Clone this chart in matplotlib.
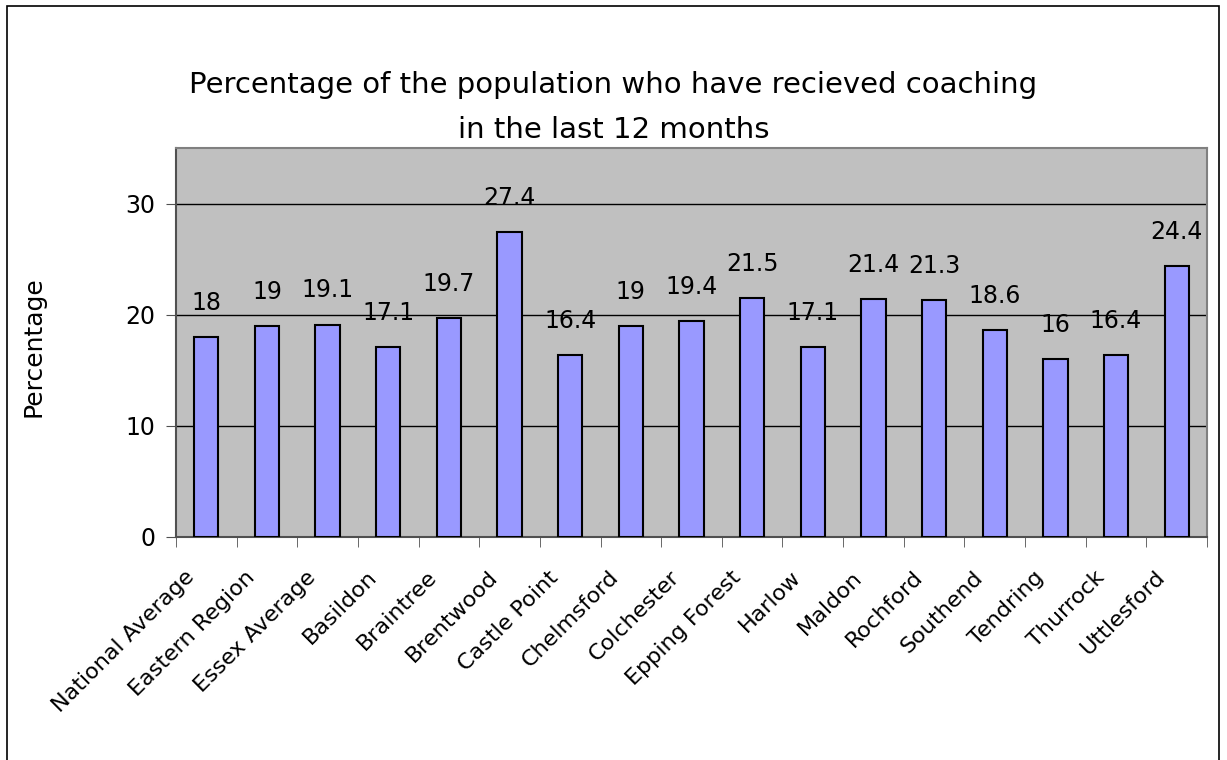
import numpy as np
import matplotlib
matplotlib.use("Agg")
import matplotlib.pyplot as plt
from matplotlib.patches import Rectangle
from matplotlib.transforms import ScaledTranslation

areas = ["National Average", "Eastern Region", "Essex Average", "Basildon",
         "Braintree", "Brentwood", "Castle Point", "Chelmsford", "Colchester",
         "Epping Forest", "Harlow", "Maldon", "Rochford", "Southend",
         "Tendring", "Thurrock", "Uttlesford"]
coached = [18, 19, 19.1, 17.1, 19.7, 27.4, 16.4, 19, 19.4, 21.5,
           17.1, 21.4, 21.3, 18.6, 16, 16.4, 24.4]
y_ticks = [0, 10, 20, 30]

plt.rcParams['font.family'] = ['DejaVu Sans']

fig = plt.figure(figsize=(12.27, 7.6), dpi=100)
fig.patch.set_facecolor("white")
# outer chart border
fig.add_artist(Rectangle((7 / 1227, -0.01), 1212 / 1227, 1 - 6 / 760 + 0.01,
                         transform=fig.transFigure, fill=False,
                         edgecolor="black", linewidth=1.2))

ax = fig.add_axes([176 / 1227, 1 - 537 / 760, (1207 - 176) / 1227, (537 - 148) / 760])
ax.set_facecolor("#C0C0C0")

x = np.arange(len(areas))
ax.bar(x, coached, width=0.4, color="#9999FF", edgecolor="black",
       linewidth=1.5, zorder=3)

for xi, v in zip(x, coached):
    ax.annotate(f"{v:g}", (xi, v), xytext=(0, 16), textcoords="offset points",
                ha="center", va="bottom", fontsize=17, color="black")

ax.set_xlim(-0.5, len(areas) - 0.5)
ax.set_ylim(0, 35)
ax.set_yticks(y_ticks)
ax.tick_params(axis="y", labelsize=17, length=7, color="#505050", pad=8)
ax.yaxis.grid(True, color="black", linewidth=1, zorder=1)

ax.set_xticks(x)
ax.set_xticklabels(areas, rotation=45, ha="right", va="top",
                   rotation_mode="anchor", fontsize=16)
ax.tick_params(axis="x", length=0, pad=0)
shift = ScaledTranslation(-0.22, -0.30, fig.dpi_scale_trans)
for lbl in ax.get_xticklabels():
    lbl.set_transform(lbl.get_transform() + shift)
ax.set_xticks(np.arange(-0.5, len(areas)), minor=True)
ax.tick_params(axis="x", which="minor", length=7, color="#505050")

for s in ax.spines.values():
    s.set_color("#808080")
    s.set_linewidth(1.5)
ax.spines["left"].set_color("#505050")
ax.spines["bottom"].set_color("#505050")

ax.set_ylabel("Percentage", fontsize=18)
ax.yaxis.set_label_coords(-0.127, 0.49)
fig.text(0.5, 1 - 85 / 760, "Percentage of the population who have recieved coaching",
         ha="center", va="center", fontsize=21)
fig.text(0.5, 1 - 130 / 760, "in the last 12 months",
         ha="center", va="center", fontsize=21)

fig.savefig("out.png", dpi=100)
